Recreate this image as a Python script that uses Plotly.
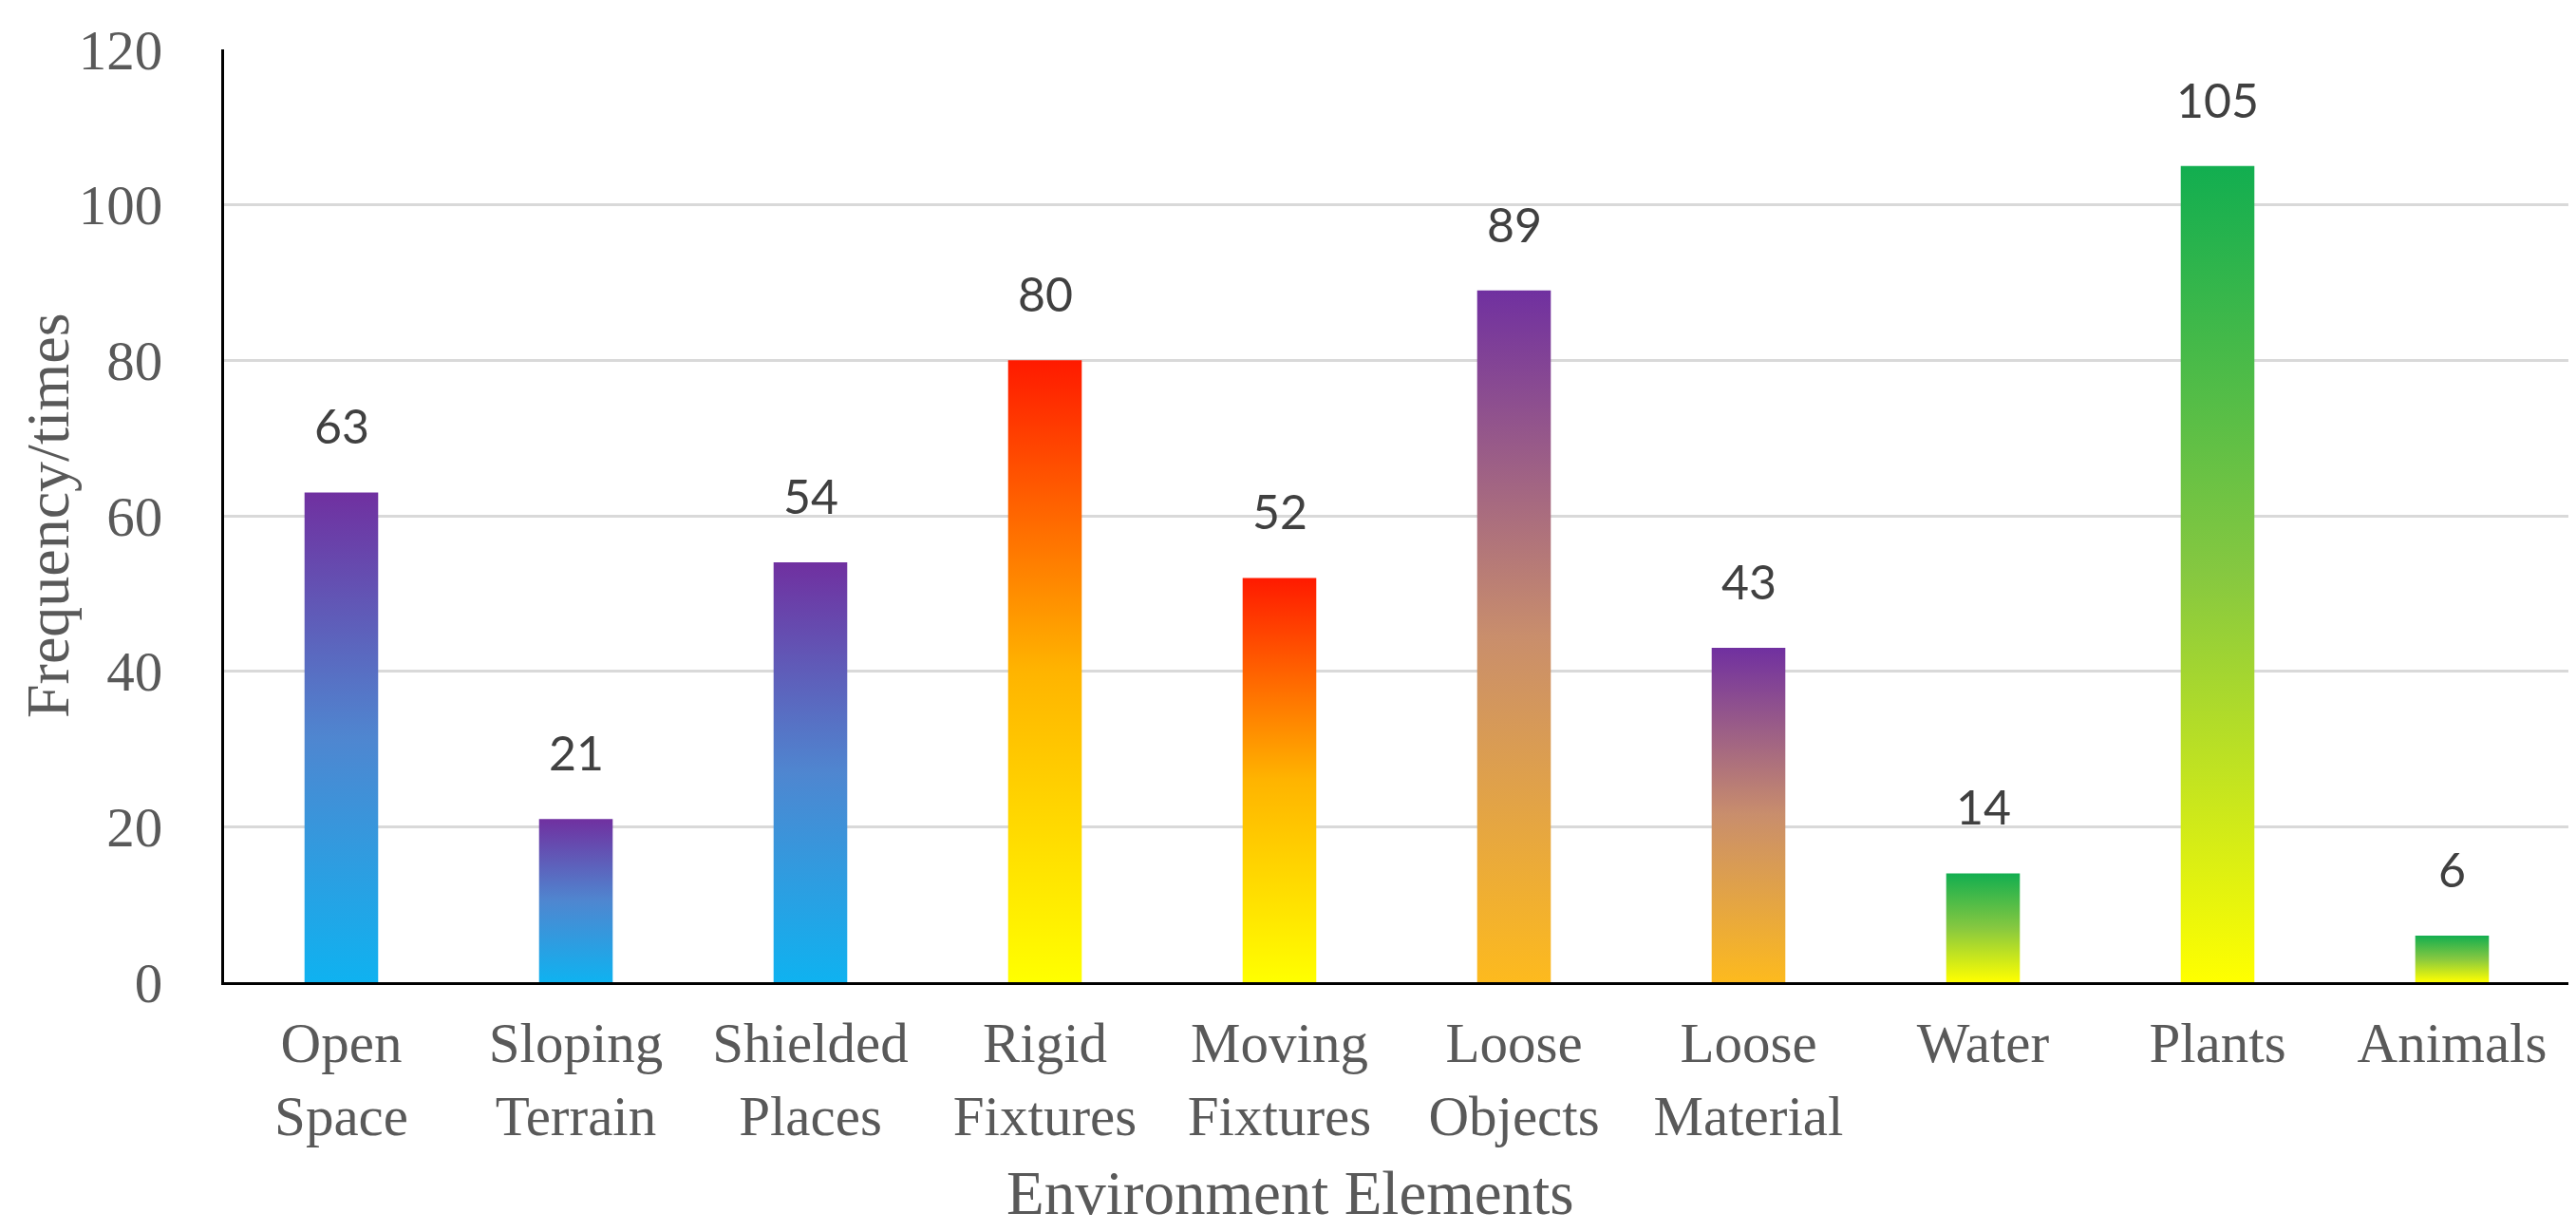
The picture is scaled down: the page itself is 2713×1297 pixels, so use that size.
import plotly.graph_objects as go

# chart data
categories = ["Open<br>Space", "Sloping<br>Terrain", "Shielded<br>Places", "Rigid<br>Fixtures",
              "Moving<br>Fixtures", "Loose<br>Objects", "Loose<br>Material", "Water", "Plants", "Animals"]
frequency = [63, 21, 54, 80, 52, 89, 43, 14, 105, 6]
y_ticks = [0, 20, 40, 60, 80, 100, 120]

# gradient groups (bottom colour -> top colour)
blue_purple = [[0, "#0FB2F0"], [0.5, "#4F86D0"], [1, "#7030A0"]]
yellow_red = [[0, "#FFFF00"], [0.5, "#FFB400"], [1, "#FF1A00"]]
orange_purple = [[0, "#FDBA1E"], [0.5, "#C98E6C"], [1, "#7030A0"]]
yellow_green = [[0, "#FFFF00"], [0.5, "#86C840"], [1, "#12AE50"]]
bar_scales = [blue_purple, blue_purple, blue_purple, yellow_red, yellow_red,
              orange_purple, orange_purple, yellow_green, yellow_green, yellow_green]

HALF_W = 0.157
fig = go.Figure()

for i, (val, cs) in enumerate(zip(frequency, bar_scales)):
    fig.add_trace(go.Scatter(
        x=[i - HALF_W, i + HALF_W, i + HALF_W, i - HALF_W, i - HALF_W],
        y=[0, 0, val, val, 0],
        mode="lines",
        line=dict(width=0),
        fill="toself",
        fillgradient=dict(type="vertical", colorscale=cs),
        hoverinfo="skip",
        showlegend=False,
    ))
    fig.add_annotation(
        x=i, y=val, text=str(val), showarrow=False,
        yanchor="bottom", yshift=38,
        font=dict(family="Lato", size=50, color="#404040"),
    )

serif = "Liberation Serif"

fig.update_layout(
    width=2713, height=1297,
    margin=dict(l=228, r=15, t=36, b=271),
    plot_bgcolor="white", paper_bgcolor="white",
    showlegend=False,
    xaxis=dict(
        range=[-0.5, 9.5],
        tickvals=list(range(len(categories))),
        ticktext=categories,
        showgrid=False, zeroline=False,
        showline=True, linecolor="black", linewidth=3,
        ticks="", ticklabelstandoff=10,
        tickfont=dict(family=serif, size=59, color="#595959"),
    ),
    yaxis=dict(
        range=[0, 120],
        tickvals=y_ticks,
        showgrid=True, gridcolor="#D9D9D9", gridwidth=3,
        zeroline=False,
        showline=True, linecolor="black", linewidth=3,
        ticks="", ticklabelstandoff=50,
        tickfont=dict(family=serif, size=59, color="#595959"),
    ),
)

# axis titles
fig.add_annotation(
    text="Frequency/times", xref="paper", yref="paper",
    x=-0.0753, y=0.5, xanchor="center", yanchor="middle",
    textangle=-90, showarrow=False,
    font=dict(family=serif, size=64, color="#595959"),
)
fig.add_annotation(
    text="Environment Elements", xref="paper", yref="paper",
    x=0.4547, y=-0.226, xanchor="center", yanchor="middle", showarrow=False,
    font=dict(family=serif, size=65, color="#595959"),
)

fig.write_html("out.html")
